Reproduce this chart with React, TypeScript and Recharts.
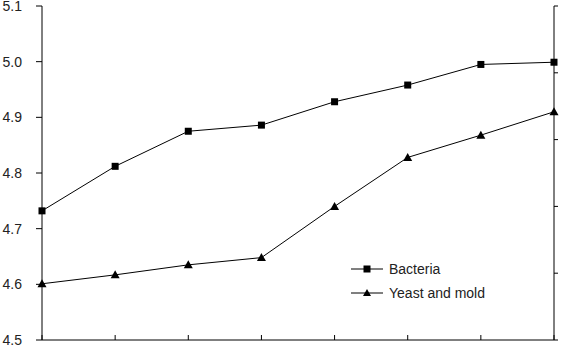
import React from 'react';
import { LineChart, Line, XAxis, YAxis } from 'recharts';

const categories = ['1', '2', '3', '4', '5', '6', '7', '8'];
const bacteria = [4.732, 4.812, 4.875, 4.886, 4.928, 4.958, 4.995, 4.999];
const yeastMold = [4.601, 4.617, 4.635, 4.648, 4.74, 4.828, 4.868, 4.91];
const leftTicks = [4.5, 4.6, 4.7, 4.8, 4.9, 5.0, 5.1];
const rightTicks = [0, 1, 2, 3, 4, 5];

const data = categories.map((c, i) => ({ cat: c, bacteria: bacteria[i], yeast: yeastMold[i] }));

const FONT = '"Liberation Sans", Arial, sans-serif';

const Square = (props: any) => {
  const { cx, cy } = props;
  if (cx == null || cy == null) return null;
  return <rect x={cx - 3.5} y={cy - 3.5} width={7} height={7} fill="#000" />;
};

const Triangle = (props: any) => {
  const { cx, cy } = props;
  if (cx == null || cy == null) return null;
  return <polygon points={`${cx},${cy - 4.5} ${cx - 4.5},${cy + 3.5} ${cx + 4.5},${cy + 3.5}`} fill="#000" />;
};

const EmptyTick = () => <g />;

const LegendBox = () => (
  <svg width={200} height={50} style={{ position: 'absolute', left: 350, top: 257, display: 'block' }}>
    <g>
      <line x1={1} y1={12} x2={33} y2={12} stroke="#000" strokeWidth={1} />
      <rect x={13.5} y={8.5} width={7} height={7} fill="#000" />
      <text x={39} y={17} fontFamily={FONT} fontSize={14} fill="#222">Bacteria</text>
    </g>
    <g>
      <line x1={1} y1={36} x2={33} y2={36} stroke="#000" strokeWidth={1} />
      <polygon points="17,32 13,39 21,39" fill="#000" />
      <text x={39} y={41} fontFamily={FONT} fontSize={14} fill="#222">Yeast and mold</text>
    </g>
  </svg>
);

export default function App() {
  return (
    <div style={{ position: 'absolute', left: 0, top: 0, width: 570, height: 346, background: '#fff' }}>
      <LineChart width={570} height={346} data={data} margin={{ top: 6, right: 6, bottom: 6, left: 0 }}>
        <XAxis
          dataKey="cat"
          height={1}
          tick={EmptyTick}
          mirror
          tickSize={5}
          axisLine={{ stroke: '#000' }}
          tickLine={{ stroke: '#000' }}
        />
        <YAxis
          yAxisId="left"
          width={42}
          domain={[4.5, 5.1]}
          ticks={leftTicks}
          interval={0}
          tickFormatter={(v: number) => v.toFixed(1)}
          tickSize={6}
          tickMargin={14}
          axisLine={{ stroke: '#000' }}
          tickLine={{ stroke: '#000' }}
          tick={{ fontFamily: FONT, fontSize: 14, fill: '#222' }}
          allowDataOverflow
        />
        <YAxis
          yAxisId="right"
          orientation="right"
          width={10}
          domain={[0, 5]}
          ticks={rightTicks}
          interval={0}
          tick={EmptyTick}
          tickSize={4}
          axisLine={{ stroke: '#000' }}
          tickLine={{ stroke: '#000' }}
          allowDataOverflow
        />
        <Line
          yAxisId="left"
          dataKey="bacteria"
          name="Bacteria"
          stroke="#000"
          strokeWidth={1}
          dot={<Square />}
          isAnimationActive={false}
        />
        <Line
          yAxisId="left"
          dataKey="yeast"
          name="Yeast and mold"
          stroke="#000"
          strokeWidth={1}
          dot={<Triangle />}
          isAnimationActive={false}
        />
      </LineChart>
      <LegendBox />
    </div>
  );
}
